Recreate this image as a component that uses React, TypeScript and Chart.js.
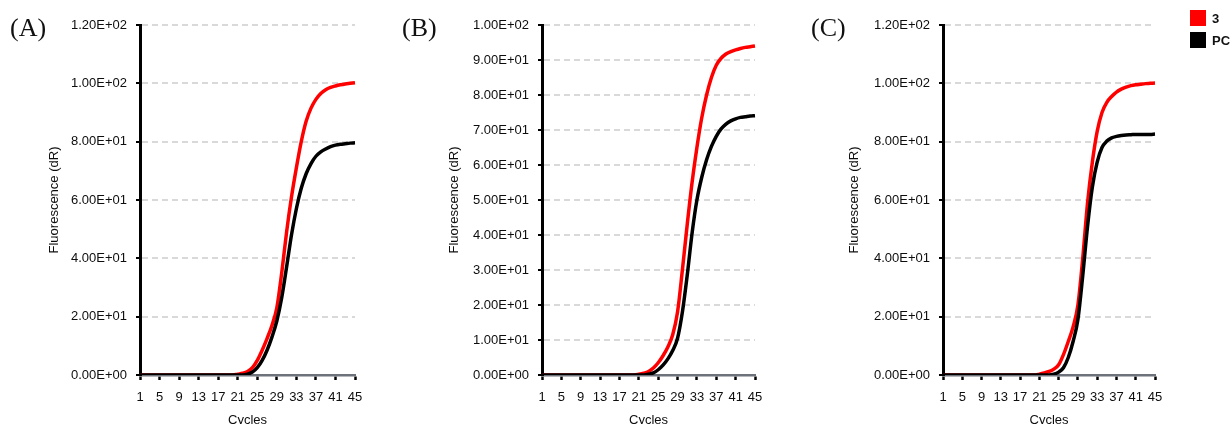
import React, { useEffect, useRef } from "react";
import { Chart, registerables } from "chart.js";

Chart.register(...registerables);

const cycles = [
  "1", "2", "3", "4", "5", "6", "7", "8", "9", "10", "11", "12", "13", "14", "15",
  "16", "17", "18", "19", "20", "21", "22", "23", "24", "25", "26", "27", "28", "29", "30",
  "31", "32", "33", "34", "35", "36", "37", "38", "39", "40", "41", "42", "43", "44", "45",
];

const seriesNames = ["3", "PC"];
const seriesColors = ["#ff0000", "#000000"];

const redA = [
  0, 0, 0, 0, 0, 0, 0, 0, 0, 0, 0, 0, 0, 0, 0, 0, 0, 0, 0, 0,
  0.3, 0.6, 1.2, 2.5, 5, 8.5, 12.5, 17, 23, 35, 49, 61, 71, 80, 87, 91.5, 94.5, 96.5, 97.8, 98.6, 99.1, 99.5, 99.8, 100, 100.2,
];
const blackA = [
  0, 0, 0, 0, 0, 0, 0, 0, 0, 0, 0, 0, 0, 0, 0, 0, 0, 0, 0, 0, 0, 0,
  0.3, 1, 2.5, 5, 8.5, 13, 18.5, 26.5, 37, 48, 57, 64, 69, 72.5, 75, 76.5, 77.5, 78.3, 78.8, 79.1, 79.3, 79.5, 79.6,
];
const redB = [
  0, 0, 0, 0, 0, 0, 0, 0, 0, 0, 0, 0, 0, 0, 0, 0, 0, 0, 0, 0,
  0.2, 0.5, 1, 2, 3.5, 5.5, 8, 11.5, 18, 30, 43, 55, 65, 73.5, 80, 85, 88.5, 90.5, 91.7, 92.4, 92.9, 93.3, 93.6, 93.8, 94,
];
const blackB = [
  0, 0, 0, 0, 0, 0, 0, 0, 0, 0, 0, 0, 0, 0, 0, 0, 0, 0, 0, 0, 0, 0,
  0.2, 0.6, 1.5, 2.8, 4.6, 7, 10.5, 18, 28.5, 40.5, 50, 56.5, 61.5, 65.3, 68.2, 70.3, 71.7, 72.6, 73.2, 73.6, 73.8, 74, 74.1,
];
const redC = [
  0, 0, 0, 0, 0, 0, 0, 0, 0, 0, 0, 0, 0, 0, 0, 0, 0, 0, 0, 0,
  0.3, 0.7, 1.2, 2, 3.5, 7, 11.5, 16.5, 24, 40, 59, 73, 83.5, 90, 93.5, 95.5, 97, 98, 98.7, 99.2, 99.5, 99.7, 99.9, 100, 100.1,
];
const blackC = [
  0, 0, 0, 0, 0, 0, 0, 0, 0, 0, 0, 0, 0, 0, 0, 0, 0, 0, 0, 0, 0, 0, 0,
  0.3, 1, 2.5, 6, 11.5, 19, 34, 51, 64.5, 73, 78, 80.2, 81.3, 81.8, 82.1, 82.3, 82.4, 82.5, 82.5, 82.5, 82.5, 82.6,
];

const panelTitles = ["(A)", "(B)", "(C)"];
const yMaxes = [120, 100, 120];
const ySteps = [20, 10, 20];
const xTitle = "Cycles";
const yTitle = "Fluorescence (dR)";

function sciLabel(v: number): string {
  const [m, e] = v.toExponential(2).split("e");
  const sign = e[0] === "-" ? "-" : "+";
  const digits = e.replace("+", "").replace("-", "").padStart(2, "0");
  return m + "E" + sign + digits;
}

type PanelProps = {
  left: number;
  axisX: number;
  red: number[];
  black: number[];
  yMax: number;
  yStep: number;
  title: string;
  titleLeft: number;
};

const FONT = "'Liberation Sans', Arial, sans-serif";
const TEXT = "#0d0d0d";

function Panel(props: PanelProps) {
  const ref = useRef<HTMLCanvasElement | null>(null);
  useEffect(() => {
    if (!ref.current) return;
    const padLeft = 44;
    const chart = new Chart(ref.current, {
      type: "line",
      data: {
        labels: cycles,
        datasets: [
          {
            label: seriesNames[0],
            data: props.red,
            borderColor: seriesColors[0],
            backgroundColor: seriesColors[0],
            borderWidth: 3.5,
            pointRadius: 0,
            cubicInterpolationMode: "monotone",
            order: 1,
          },
          {
            label: seriesNames[1],
            data: props.black,
            borderColor: seriesColors[1],
            backgroundColor: seriesColors[1],
            borderWidth: 3.5,
            pointRadius: 0,
            cubicInterpolationMode: "monotone",
            order: 0,
          },
        ],
      },
      options: {
        animation: false,
        responsive: false,
        maintainAspectRatio: false,
        events: [],
        layout: { padding: { left: padLeft, right: 45, top: 25, bottom: 2 } },
        plugins: { legend: { display: false }, tooltip: { enabled: false } },
        scales: {
          x: {
            afterFit: (s: any) => {
              s.height = 53;
            },
            border: { color: "#6e737b", width: 2.5 },
            grid: {
              drawOnChartArea: false,
              drawTicks: true,
              tickLength: 5,
              tickColor: "#000",
              tickWidth: 2.5,
            },
            ticks: {
              autoSkip: false,
              maxRotation: 0,
              padding: 10,
              color: TEXT,
              font: { family: FONT, size: 13 },
              callback: (_v: any, i: number) => (i % 4 === 0 ? cycles[i] : null),
            },
            title: {
              display: true,
              text: xTitle,
              color: TEXT,
              font: { family: FONT, size: 13 },
              padding: { top: 0, bottom: 0 },
            },
          },
          y: {
            min: 0,
            max: props.yMax,
            afterFit: (s: any) => {
              s.width = props.axisX - padLeft;
            },
            border: { color: "#000", width: 3, dash: [6, 4] },
            grid: {
              color: (c: any) => (c.tick && c.tick.value === 0 ? "rgba(0,0,0,0)" : "#d9d9d9"),
              lineWidth: 2,
              tickBorderDash: [1, 0],
              tickColor: "#000",
              tickLength: 4,
              tickWidth: 2,
            },
            ticks: {
              stepSize: props.yStep,
              padding: 9,
              color: TEXT,
              font: { family: FONT, size: 13 },
              callback: (v: any) => sciLabel(Number(v)),
            },
            title: {
              display: true,
              text: yTitle,
              color: TEXT,
              font: { family: FONT, size: 13 },
              padding: { top: 3, bottom: 0 },
            },
          },
        },
      },
    });
    return () => chart.destroy();
  }, []);
  return (
    <>
      <canvas
        ref={ref}
        width={400}
        height={430}
        style={{ position: "absolute", left: props.left, top: 0, width: 400, height: 430 }}
      />
      <div
        style={{
          position: "absolute",
          left: props.titleLeft,
          top: 13,
          fontFamily: "'Liberation Serif', 'DejaVu Serif', serif",
          fontSize: 26,
          lineHeight: "30px",
          color: "#111",
        }}
      >
        {props.title}
      </div>
    </>
  );
}

export default function App() {
  return (
    <div
      style={{
        position: "absolute",
        left: 0,
        top: 0,
        width: 1232,
        height: 424,
        overflow: "hidden",
        background: "#fff",
      }}
    >
      <Panel left={0} axisX={140} red={redA} black={blackA} yMax={yMaxes[0]} yStep={ySteps[0]} title={panelTitles[0]} titleLeft={10} />
      <Panel left={400} axisX={142} red={redB} black={blackB} yMax={yMaxes[1]} yStep={ySteps[1]} title={panelTitles[1]} titleLeft={402} />
      <Panel left={800} axisX={143} red={redC} black={blackC} yMax={yMaxes[2]} yStep={ySteps[2]} title={panelTitles[2]} titleLeft={811} />
      {seriesNames.map((n, i) => (
        <div
          key={n}
          style={{
            position: "absolute",
            left: 1190,
            top: 10 + i * 22,
            height: 16,
            display: "flex",
            alignItems: "center",
            fontFamily: FONT,
            fontWeight: "bold",
            fontSize: 13,
            color: "#111",
          }}
        >
          <span style={{ display: "inline-block", width: 16, height: 16, background: seriesColors[i], marginRight: 6 }} />
          <span>{n}</span>
        </div>
      ))}
    </div>
  );
}
